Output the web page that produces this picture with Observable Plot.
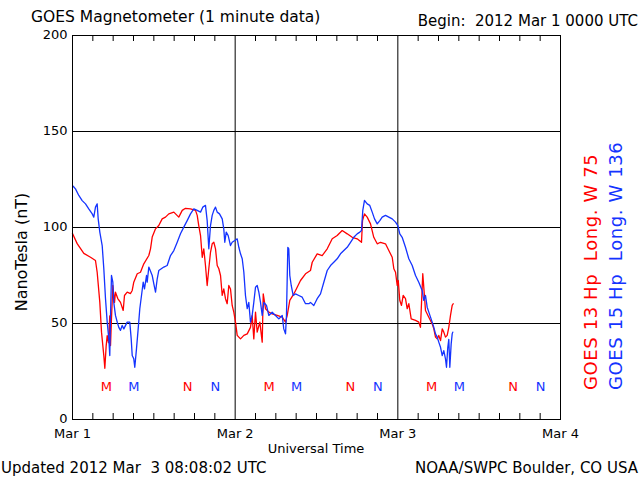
<!DOCTYPE html>
<html><head><meta charset="utf-8">
<script src="https://cdn.jsdelivr.net/npm/d3@7"></script>
<script src="https://cdn.jsdelivr.net/npm/@observablehq/plot@0.6"></script>
<style>
body{margin:0;background:#fff;}
svg text{font-family:"DejaVu Sans";}
</style>
</head><body><div id="chart"></div>
<script>
// Hours since 2012 Mar 1 00:00 UT, and field (nT)
const hoursG13 = [0.0,0.69,1.67,2.66,3.39,3.64,4.03,4.28,4.62,4.77,4.97,5.12,5.31,5.50,5.61,5.75,5.95,6.20,6.34,6.68,7.08,7.48,7.67,8.07,8.56,8.81,9.04,9.55,10.03,10.52,11.26,11.51,11.76,12.25,12.73,13.23,13.72,14.21,14.95,15.68,16.19,16.67,17.41,18.15,18.40,18.63,18.89,19.14,19.37,19.62,19.87,20.11,20.36,20.61,20.85,21.10,21.35,21.59,21.84,22.09,22.32,22.57,22.82,23.06,23.31,23.56,23.80,24.05,24.30,24.79,25.28,25.78,26.26,26.51,26.75,27.00,27.25,27.64,27.99,28.14,28.48,28.96,29.46,30.20,30.94,31.43,31.68,32.06,32.65,33.15,33.64,34.38,35.11,35.37,36.10,36.84,37.58,38.32,39.05,39.79,40.53,41.27,42.00,42.64,42.79,43.08,43.48,43.97,44.45,44.96,45.44,46.18,46.67,47.17,47.41,47.66,47.91,48.06,48.29,48.54,48.79,49.13,49.38,49.62,49.97,50.61,51.09,51.34,51.49,51.68,51.83,52.08,52.57,53.07,53.31,53.56,53.81,54.04,54.30,54.55,54.78,55.03,55.28,55.52,55.77,56.02,56.17];
const nTG13 = [96.9,91.6,86.5,84.5,82.8,76.7,61,45.5,33.3,26.7,38.5,43.7,40,54,38.5,52.6,69.8,61,66.3,63,61,56.8,64.6,66.3,65.6,67.2,71.5,75.9,76.7,81.1,85.4,88.9,95,99.3,101,104.5,105.4,107.1,108,105.4,108.9,110,109.7,108.9,106.3,101,95.8,84.5,88.9,80.2,69.8,78.5,87.1,91.5,92.3,88.9,80.2,78.5,75,64.6,68,62.9,60.3,69.8,68,59.4,55.9,50.7,43.8,42,43.8,44.6,48,54.2,42,55.9,45.5,50.7,40.3,65.4,57.7,55.9,55,54.2,53.3,50.7,54.2,62,65.4,68.9,72.4,75.9,77.6,81.9,86.3,85.4,88.9,94.1,95.8,98.4,96.7,94.9,94.1,92.3,103.6,107.1,105.4,101.9,94.9,91.5,92.3,91.5,88,84.5,78.5,76.7,69.8,72.4,62,59.4,64.6,62.9,57.7,60.3,52.4,51.6,50.7,48,60.3,75.9,68.9,56.8,53.3,49.8,47.2,42.9,42,43.8,41.1,47.2,45.5,42.9,43.8,48,54.2,59.4,60.3];

const hoursG15 = [0.1,0.44,0.93,1.43,1.92,2.40,2.91,3.14,3.39,3.64,3.79,4.03,4.38,4.62,4.87,5.12,5.36,5.50,5.61,5.75,5.95,6.09,6.34,6.60,6.83,7.08,7.33,7.57,8.07,8.45,8.66,8.81,9.04,9.19,9.44,9.69,9.93,10.18,10.43,10.62,10.92,11.02,11.26,11.76,12.00,12.25,12.50,12.73,13.47,13.97,14.46,14.95,15.45,15.93,16.42,16.92,17.41,17.90,18.40,18.89,19.22,19.62,19.87,20.11,20.36,20.61,20.85,21.10,21.35,21.69,22.09,22.32,22.47,22.68,22.97,23.31,23.56,23.95,24.30,24.54,24.79,25.04,25.28,25.52,25.78,26.01,26.26,26.51,26.75,27.00,27.25,27.49,27.74,27.99,28.23,28.62,28.96,29.46,29.95,30.44,30.94,31.17,31.43,31.57,31.77,31.91,32.06,32.27,32.56,32.90,33.39,33.89,34.38,34.87,35.11,35.60,36.10,36.59,37.08,37.58,38.07,38.55,39.05,39.54,40.03,40.53,41.02,41.50,42.00,42.39,42.64,42.83,43.08,43.48,43.86,44.22,44.56,44.96,45.34,45.69,46.18,46.67,47.17,47.66,48.00,48.29,48.64,49.13,49.62,50.12,50.61,51.09,51.59,51.83,52.08,52.33,52.57,52.82,53.07,53.31,53.56,53.81,54.04,54.30,54.55,54.78,55.03,55.18,55.37,55.52,55.67,55.87,56.02,56.11];
const nTG15 = [121.5,120.1,116.7,114,112.3,109.7,107.1,105.4,110.6,112.3,104.5,97.6,90.6,78.5,62.9,50.7,42,33.3,54.2,75,71.5,61,54.2,50.7,48,46.4,49,47.2,50.7,50.7,42,33.3,31.6,27.2,36.8,47.2,57.7,64.6,71.5,68,75,71.5,79.4,75,70.7,66.3,73.3,77.6,79.4,80.2,85.4,88,92.3,96.7,100.2,103.6,107.1,109.7,108.9,108,110.6,111.5,103.6,88.9,101,106.3,108.9,110.6,108,107.1,104.5,99.3,92.3,97.6,95.8,90.6,92.3,93.2,94.1,89.7,86.3,83.7,76.7,64.6,57.7,61,50.7,54.2,61,68.9,69.8,66.3,61,54.2,61,59.4,54.2,55.9,54.2,52.4,54.2,47.2,44.6,54.2,89.7,88.9,75,69.8,64.6,65.4,64.6,63.7,60.3,60.3,61,59.4,62.9,65.4,71.5,77.6,80.2,81.9,83.7,86.3,88,89.7,92.3,94.9,96.7,97.6,98.4,108.9,114.1,112.3,111.5,108,104.5,101.9,103.6,105.4,106.3,105.4,104.5,102.8,101,96.7,94.9,89.7,83.7,80.2,75,71.5,67.2,62,64.6,58.5,55.9,53.3,50.7,48,44.6,42.9,40.3,37.6,33.3,35.9,31.6,27.2,37.6,41.7,27.2,39.4,44.6,45.5];

// Local midnight (M) and noon (N) in UT hours for each satellite
const midnightG13 = [5, 29, 53];
const noonG13 = [17, 41, 65];
const midnightG15 = [9.07, 33.07, 57.07];
const noonG15 = [21.07, 45.07, 69.07];

const dayHours = [0, 24, 48, 72];
const dayLabels = ["Mar 1", "Mar 2", "Mar 3", "Mar 4"];
const minorHours = d3.range(3, 72, 3).filter(h => h % 24 !== 0);
const yTicks = [0, 50, 100, 150, 200];
const gridY = [50, 100, 150];
const gridX = [24, 48];

const RED = "#ff0000", BLUE = "#1433ff";

const g13 = hoursG13.map((h, i) => ({h, v: nTG13[i]}));
const g15 = hoursG15.map((h, i) => ({h, v: nTG15[i]}));
const markers = [
  ...midnightG13.map(h => ({h, t: "M", c: RED})),
  ...noonG13.map(h => ({h, t: "N", c: RED})),
  ...midnightG15.map(h => ({h, t: "M", c: BLUE})),
  ...noonG15.map(h => ({h, t: "N", c: BLUE}))
];

const chart = Plot.plot({
  width: 640, height: 480,
  marginLeft: 72, marginRight: 80, marginTop: 35, marginBottom: 61,
  style: {fontFamily: "DejaVu Sans", fontSize: "13px", background: "white", color: "black", overflow: "visible"},
  x: {domain: [0, 72]},
  y: {domain: [0, 200]},
  marks: [
    Plot.ruleY(gridY, {stroke: "black", strokeWidth: 1}),
    Plot.ruleX(gridX, {stroke: "black", strokeWidth: 1}),
    Plot.ruleX(minorHours, {stroke: "black", insetTop: 378}),
    Plot.ruleX(minorHours, {stroke: "black", insetBottom: 378}),
    Plot.line(g13, {x: "h", y: "v", stroke: RED, strokeWidth: 1.3}),
    Plot.line(g15, {x: "h", y: "v", stroke: BLUE, strokeWidth: 1.3}),
    Plot.text(markers, {x: "h", text: "t", fill: "c", frameAnchor: "bottom", lineAnchor: "middle", dy: -33, fontSize: 13}),
    Plot.frame({stroke: "black", strokeWidth: 1}),
    Plot.axisX({ticks: dayHours, tickFormat: d => dayLabels[dayHours.indexOf(d)], tickSize: 0, tickPadding: 9, label: null, fontSize: 13}),
    Plot.axisY({ticks: yTicks, tickSize: 0, tickPadding: 5, dy: -1, label: null, fontSize: 13})
  ]
});
document.getElementById("chart").appendChild(chart);

const svg = d3.select(chart);
function txt(x, y, s, opts = {}) {
  const t = svg.append("text").attr("x", x).attr("y", y).text(s)
    .style("white-space", "pre")
    .attr("font-family", "DejaVu Sans")
    .attr("font-size", opts.size || 15)
    .attr("fill", opts.fill || "black")
    .attr("text-anchor", opts.anchor || "start");
  if (opts.rotate) t.attr("transform", `rotate(${opts.rotate},${x},${y})`);
  if (opts.ls) t.attr("letter-spacing", opts.ls);
  return t;
}
txt(31, 22, "GOES Magnetometer (1 minute data)", {size: 15.5});
txt(638, 26, "Begin:  2012 Mar 1 0000 UTC", {size: 15, anchor: "end"});
txt(316, 453, "Universal Time", {size: 13, anchor: "middle"});
txt(1, 473, "Updated 2012 Mar  3 08:08:02 UTC", {size: 15});
txt(638, 473, "NOAA/SWPC Boulder, CO USA", {size: 15, anchor: "end"});
txt(27, 252, "NanoTesla (nT)", {size: 16, anchor: "middle", rotate: -90});
txt(597, 390, "GOES 13 Hp  Long. W 75", {size: 18, fill: RED, rotate: -90, ls: 0.6});
txt(622, 390, "GOES 15 Hp  Long. W 136", {size: 18, fill: BLUE, rotate: -90, ls: 0.6});
</script></body></html>
